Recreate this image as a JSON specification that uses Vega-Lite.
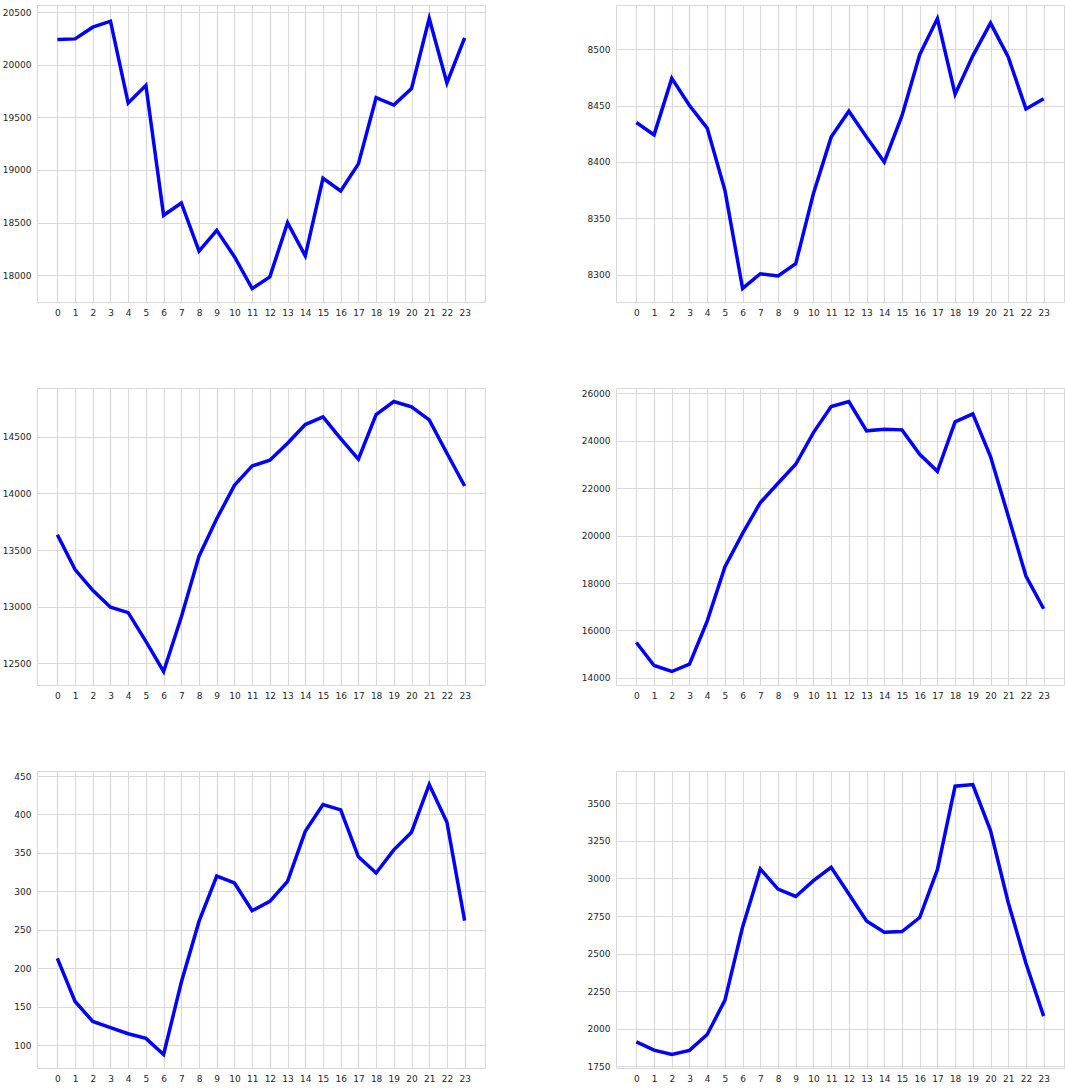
{
  "$schema": "https://vega.github.io/schema/vega-lite/v6.json",
  "padding": {"left": 0, "top": 4, "right": 0, "bottom": 0},
  "background": "white",
  "data": {"values": [
    {"hour": 0, "a": 20240, "b": 8435, "c": 13634, "d": 15493, "e": 213, "f": 1914},
    {"hour": 1, "a": 20246, "b": 8424, "c": 13328, "d": 14521, "e": 157, "f": 1859},
    {"hour": 2, "a": 20357, "b": 8474, "c": 13145, "d": 14268, "e": 131, "f": 1830},
    {"hour": 3, "a": 20414, "b": 8450, "c": 12995, "d": 14577, "e": 123, "f": 1857},
    {"hour": 4, "a": 19636, "b": 8430, "c": 12948, "d": 16394, "e": 115, "f": 1963},
    {"hour": 5, "a": 19804, "b": 8375, "c": 12694, "d": 18676, "e": 109, "f": 2190},
    {"hour": 6, "a": 18569, "b": 8288, "c": 12429, "d": 20099, "e": 88, "f": 2678},
    {"hour": 7, "a": 18686, "b": 8301, "c": 12909, "d": 21394, "e": 182, "f": 3063},
    {"hour": 8, "a": 18229, "b": 8299, "c": 13446, "d": 22211, "e": 261, "f": 2929},
    {"hour": 9, "a": 18426, "b": 8310, "c": 13775, "d": 23014, "e": 320, "f": 2880},
    {"hour": 10, "a": 18175, "b": 8372, "c": 14070, "d": 24352, "e": 311, "f": 2985},
    {"hour": 11, "a": 17873, "b": 8422, "c": 14241, "d": 25451, "e": 275, "f": 3074},
    {"hour": 12, "a": 17984, "b": 8445, "c": 14291, "d": 25662, "e": 287, "f": 2896},
    {"hour": 13, "a": 18499, "b": 8422, "c": 14441, "d": 24423, "e": 313, "f": 2718},
    {"hour": 14, "a": 18184, "b": 8400, "c": 14606, "d": 24493, "e": 378, "f": 2643},
    {"hour": 15, "a": 18921, "b": 8441, "c": 14674, "d": 24465, "e": 413, "f": 2647},
    {"hour": 16, "a": 18800, "b": 8495, "c": 14482, "d": 23437, "e": 406, "f": 2740},
    {"hour": 17, "a": 19058, "b": 8527, "c": 14300, "d": 22718, "e": 345, "f": 3058},
    {"hour": 18, "a": 19687, "b": 8460, "c": 14694, "d": 24803, "e": 324, "f": 3613},
    {"hour": 19, "a": 19617, "b": 8494, "c": 14809, "d": 25141, "e": 354, "f": 3624},
    {"hour": 20, "a": 19773, "b": 8523, "c": 14762, "d": 23338, "e": 377, "f": 3318},
    {"hour": 21, "a": 20440, "b": 8493, "c": 14647, "d": 20831, "e": 439, "f": 2840},
    {"hour": 22, "a": 19827, "b": 8447, "c": 14353, "d": 18296, "e": 390, "f": 2436},
    {"hour": 23, "a": 20255, "b": 8456, "c": 14064, "d": 16915, "e": 262, "f": 2085}
  ]},
  "columns": 2,
  "spacing": {"column": 93, "row": 68},
  "concat": [
    {
      "width": 448, "height": 297,
      "mark": {"type": "line", "color": "#0000ff", "strokeWidth": 3.5},
      "encoding": {
        "x": {"field": "hour", "type": "quantitative", "scale": {"domain": [-1.15, 24.15], "nice": false, "zero": false},
              "axis": {"values": [0,1,2,3,4,5,6,7,8,9,10,11,12,13,14,15,16,17,18,19,20,21,22,23], "format": "d", "title": null}},
        "y": {"field": "a", "type": "quantitative", "scale": {"domain": [17745, 20568], "nice": false, "zero": false},
              "axis": {"values": [18000, 18500, 19000, 19500, 20000, 20500], "format": "d", "title": null}}
      }
    },
    {
      "width": 448, "height": 297,
      "mark": {"type": "line", "color": "#0000ff", "strokeWidth": 3.5},
      "encoding": {
        "x": {"field": "hour", "type": "quantitative", "scale": {"domain": [-1.15, 24.15], "nice": false, "zero": false},
              "axis": {"values": [0,1,2,3,4,5,6,7,8,9,10,11,12,13,14,15,16,17,18,19,20,21,22,23], "format": "d", "title": null}},
        "y": {"field": "b", "type": "quantitative", "scale": {"domain": [8276, 8539], "nice": false, "zero": false},
              "axis": {"values": [8300, 8350, 8400, 8450, 8500], "format": "d", "title": null}}
      }
    },
    {
      "width": 448, "height": 297,
      "mark": {"type": "line", "color": "#0000ff", "strokeWidth": 3.5},
      "encoding": {
        "x": {"field": "hour", "type": "quantitative", "scale": {"domain": [-1.15, 24.15], "nice": false, "zero": false},
              "axis": {"values": [0,1,2,3,4,5,6,7,8,9,10,11,12,13,14,15,16,17,18,19,20,21,22,23], "format": "d", "title": null}},
        "y": {"field": "c", "type": "quantitative", "scale": {"domain": [12310, 14928], "nice": false, "zero": false},
              "axis": {"values": [12500, 13000, 13500, 14000, 14500], "format": "d", "title": null}}
      }
    },
    {
      "width": 448, "height": 297,
      "mark": {"type": "line", "color": "#0000ff", "strokeWidth": 3.5},
      "encoding": {
        "x": {"field": "hour", "type": "quantitative", "scale": {"domain": [-1.15, 24.15], "nice": false, "zero": false},
              "axis": {"values": [0,1,2,3,4,5,6,7,8,9,10,11,12,13,14,15,16,17,18,19,20,21,22,23], "format": "d", "title": null}},
        "y": {"field": "d", "type": "quantitative", "scale": {"domain": [13698, 26232], "nice": false, "zero": false},
              "axis": {"values": [14000, 16000, 18000, 20000, 22000, 24000, 26000], "format": "d", "title": null}}
      }
    },
    {
      "width": 448, "height": 297,
      "mark": {"type": "line", "color": "#0000ff", "strokeWidth": 3.5},
      "encoding": {
        "x": {"field": "hour", "type": "quantitative", "scale": {"domain": [-1.15, 24.15], "nice": false, "zero": false},
              "axis": {"values": [0,1,2,3,4,5,6,7,8,9,10,11,12,13,14,15,16,17,18,19,20,21,22,23], "format": "d", "title": null}},
        "y": {"field": "e", "type": "quantitative", "scale": {"domain": [70.5, 456.5], "nice": false, "zero": false},
              "axis": {"values": [100, 150, 200, 250, 300, 350, 400, 450], "format": "d", "title": null}}
      }
    },
    {
      "width": 448, "height": 297,
      "mark": {"type": "line", "color": "#0000ff", "strokeWidth": 3.5},
      "encoding": {
        "x": {"field": "hour", "type": "quantitative", "scale": {"domain": [-1.15, 24.15], "nice": false, "zero": false},
              "axis": {"values": [0,1,2,3,4,5,6,7,8,9,10,11,12,13,14,15,16,17,18,19,20,21,22,23], "format": "d", "title": null}},
        "y": {"field": "f", "type": "quantitative", "scale": {"domain": [1740, 3714], "nice": false, "zero": false},
              "axis": {"values": [1750, 2000, 2250, 2500, 2750, 3000, 3250, 3500], "format": "d", "title": null}}
      }
    }
  ],
  "config": {
    "view": {"stroke": "#d8d8d8", "strokeWidth": 1},
    "axis": {
      "domain": false,
      "ticks": false,
      "grid": true,
      "gridColor": "#d8d8d8",
      "gridWidth": 1.1,
      "labelFont": "DejaVu Sans",
      "labelFontSize": 9,
      "labelColor": "#262626",
      "labelPadding": 6,
      "labelOverlap": false,
      "labelFlush": false
    },
    "axisY": {"minExtent": 36, "maxExtent": 36},
    "axisX": {"minExtent": 16, "maxExtent": 16}
  }
}
